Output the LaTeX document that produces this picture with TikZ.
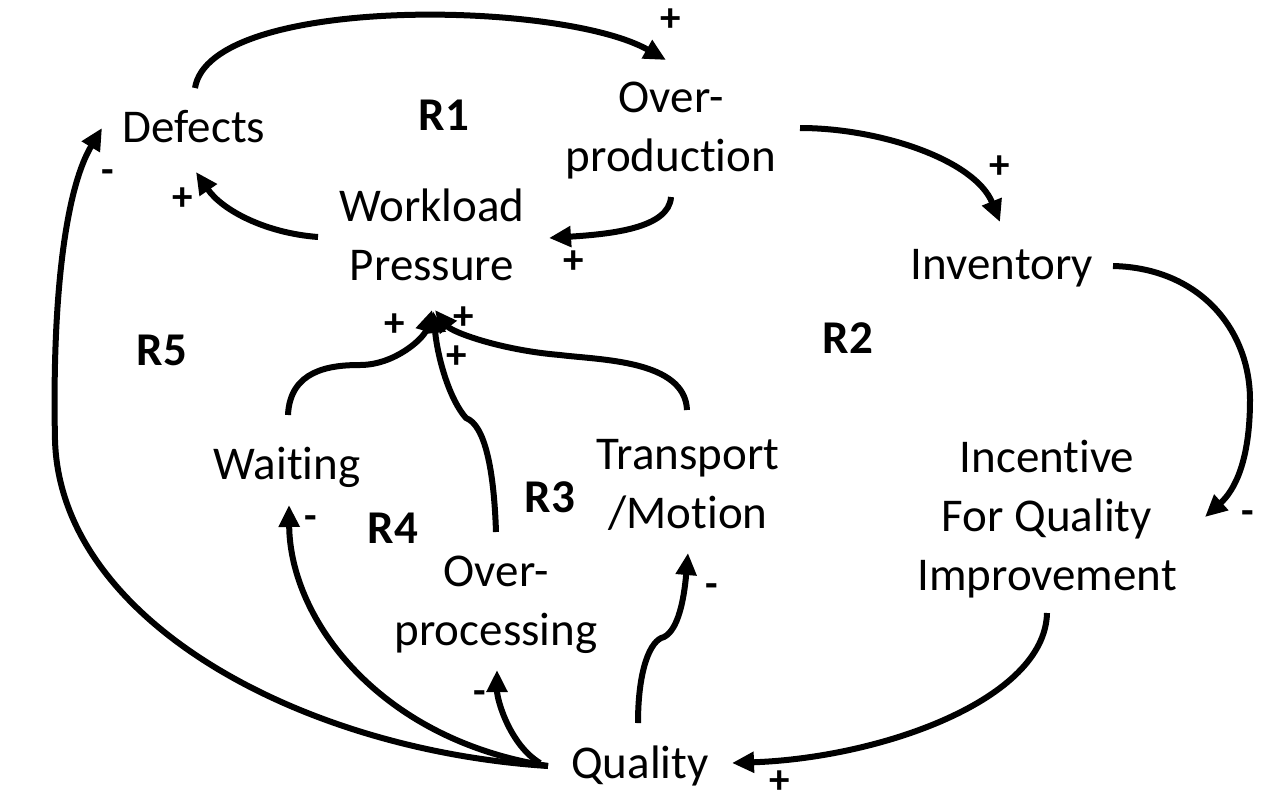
\documentclass[tikz,border=0pt]{standalone}
\usepackage{fontspec}
\setmainfont[Ligatures=NoCommon,RawFeature={-liga;-clig;-dlig}]{Carlito}
\usetikzlibrary{arrows.meta}
\begin{document}
\begin{tikzpicture}[x=1pt,y=-1pt,
  var/.style={font=\fontsize{47}{59}\selectfont, align=center, inner sep=0pt},
  loopname/.style={font=\fontsize{47}{59}\selectfont\bfseries, inner sep=0pt},
  sgn/.style={font=\fontsize{41}{50}\selectfont\bfseries, inner sep=0pt},
  link/.style={line width=6pt, line cap=butt, -{Triangle[length=22pt,width=20pt]}}]
\useasboundingbox[fill=white] (0,0) rectangle (1278,804);

% variables
\node[var] (def) at (194,127) {Defects};
\node[var] (ovp) at (671,131) {Over-\\production};
\node[var] (wlp) at (432,235) {Workload\\Pressure};
\node[var] (inv) at (1002,268) {Inventory};
\node[var] (wai) at (287,467) {Waiting};
\node[var] (tra) at (688,485) {Transport\\/Motion};
\node[var] (ovc) at (496,605) {Over-\\processing};
\node[var] (inc) at (1047,519) {Incentive\\For Quality\\Improvement};
\node[var] (qua) at (640,766) {Quality};

% loop labels
\node[loopname] (r1) at (444,115) {R1};
\node[loopname] (r2) at (848,338) {R2};
\node[loopname] (r3) at (550,497) {R3};
\node[loopname] (r4) at (393,528) {R4};
\node[loopname] (r5) at (162,350) {R5};

% connectors
\draw[link] ([shift={(1,-39)}]def.center) .. controls (210,-5) and (560,0) .. ([shift={(-5,-71)}]ovp.center);
\draw[link] ([shift={(0,66)}]ovp.center) .. controls (669,228) and (612,234) .. ([shift={(117,3)}]wlp.center);
\draw[link] ([shift={(-114,2)}]wlp.center) .. controls (265,233) and (222,210) .. ([shift={(2,45)}]def.center);
\draw[link] ([shift={(129,-3)}]ovp.center) .. controls (880,128) and (975,160) .. ([shift={(-2,-46)}]inv.center);
\draw[link] ([shift={(111,-2)}]inv.center) .. controls (1200,268) and (1250,330) .. (1250,400)
  .. controls (1250,460) and (1235,490) .. ([shift={(158,-2)}]inc.center);
\draw[link] ([shift={(0,94)}]inc.center) .. controls (1045,700) and (880,758) .. ([shift={(92,-3)}]qua.center);
\draw[link] ([shift={(-92,0)}]qua.center) .. controls (300,750) and (60,620) .. (55,440)
  .. controls (52,300) and (65,190) .. ([shift={(-92,1)}]def.center);
\draw[link] ([shift={(-92,0)}]qua.center) .. controls (380,740) and (290,620) .. ([shift={(2,38)}]wai.center);
\draw[link] ([shift={(-100,-3)}]qua.center) .. controls (510,745) and (497,700) .. ([shift={(1,65)}]ovc.center);
\draw[link] ([shift={(-2,-43)}]qua.center) .. controls (638,670) and (650,640) .. (664,637)
  .. controls (678,630) and (684,600) .. ([shift={(0,68)}]tra.center);
\draw[link] ([shift={(1,-52)}]wai.center) .. controls (290,370) and (330,365) .. (360,365)
  .. controls (395,365) and (424,338) .. ([shift={(0,75)}]wlp.center);
\draw[link] ([shift={(0,-73)}]ovc.center) .. controls (494,470) and (485,425) .. (466,418)
  .. controls (450,400) and (438,360) .. ([shift={(1,76)}]wlp.center);
\draw[link] ([shift={(-1,-75)}]tra.center) .. controls (685,360) and (600,360) .. (560,355)
  .. controls (500,350) and (452,332) .. ([shift={(3,75)}]wlp.center);

% polarity signs
\node[sgn] (p1) at (671,20) {+};
\node[sgn] (p2) at (108,177) {-};
\node[sgn] (p3) at (183,199) {+};
\node[sgn] (p4) at (574,262) {+};
\node[sgn] (p5) at (1000,167) {+};
\node[sgn] (p6) at (395,325) {+};
\node[sgn] (p7) at (464,318) {+};
\node[sgn] (p8) at (457,357) {+};
\node[sgn] (p9) at (311,523) {-};
\node[sgn] (p10) at (1248,518) {-};
\node[sgn] (p11) at (712,591) {-};
\node[sgn] (p12) at (480,698) {-};
\node[sgn] (p13) at (780,782) {+};
\end{tikzpicture}
\end{document}
